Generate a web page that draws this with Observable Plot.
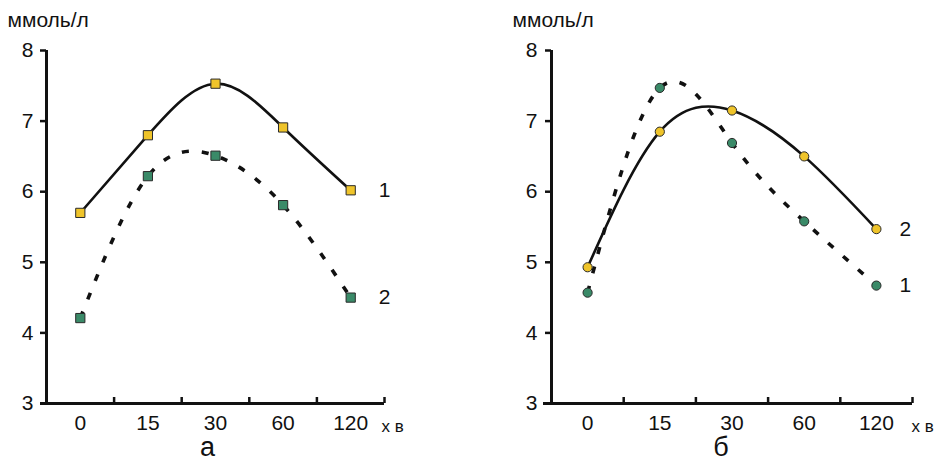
<!DOCTYPE html>
<html>
<head>
<meta charset="utf-8">
<script src="https://cdn.jsdelivr.net/npm/d3@7"></script>
<script src="https://cdn.jsdelivr.net/npm/@observablehq/plot@0.6"></script>
<style>
  body { margin: 0; background: #fff; }
  #wrap { position: relative; width: 937px; height: 462px; overflow: hidden; background: #fff; }
  .panel { position: absolute; top: 0; }
</style>
</head>
<body>
<div id="wrap"></div>
<script>
// ---- data ----
const categories = ["0", "15", "30", "60", "120"];
const yTicks = [3, 4, 5, 6, 7, 8];
const unitLabel = "ммоль/л";
const timeLabel = "х в";
const panelLetters = ["а", "б"];

// panel а (squares)
const panelA_series1 = [5.7, 6.8, 7.53, 6.91, 6.02];   // label "1", solid, yellow
const panelA_series2 = [4.21, 6.22, 6.51, 5.81, 4.50]; // label "2", dashed, green
// panel б (circles)
const panelB_series2 = [4.93, 6.85, 7.15, 6.5, 5.47];  // label "2", solid, yellow
const panelB_series1 = [4.57, 7.47, 6.69, 5.58, 4.67]; // label "1", dashed, green

const YELLOW = "#efc42a";
const GREEN = "#3a8a68";
const FONT = "'Liberation Sans', Arial, sans-serif";

function makePanel(o) {
  const n = categories.length;
  const idx = categories.map((c, i) => i);
  const bounds = categories.map((c, i) => i + 0.5);
  const marks = [];
  // axis lines
  marks.push(Plot.ruleX([-0.5], {y1: yTicks[0], y2: yTicks[yTicks.length - 1], stroke: "#111", strokeWidth: 3}));
  marks.push(Plot.ruleY([yTicks[0]], {stroke: "#111", strokeWidth: 3, insetLeft: -o.overhang}));
  // axes
  marks.push(Plot.axisY({ticks: yTicks, tickSize: 6, tickPadding: o.yPad, fontSize: 21, strokeWidth: 2.5, label: null, tickFormat: d => String(d)}));
  marks.push(Plot.axisX({ticks: idx, tickFormat: i => categories[i], tickSize: 0, tickPadding: 12, fontSize: 21, label: null}));
  marks.push(Plot.axisX({ticks: bounds, tickFormat: () => "", tickSize: 6, dy: -6, strokeWidth: 2.5, label: null}));
  // lines
  for (const s of o.series) {
    const data = s.values.map((v, i) => ({i, v}));
    marks.push(Plot.line(data, {
      x: "i", y: "v", curve: "natural", stroke: "#111",
      strokeWidth: s.dashed ? 3.6 : 2.6,
      strokeDasharray: s.dashed ? "7,13" : null,
      strokeLinecap: "butt"
    }));
  }
  // dots + end labels
  for (const s of o.series) {
    const data = s.values.map((v, i) => ({i, v}));
    marks.push(Plot.dot(data, {x: "i", y: "v", symbol: o.symbol, r: o.r, fill: s.color, stroke: "#2a2a2a", strokeWidth: 1}));
    marks.push(Plot.text([data[data.length - 1]], {x: "i", y: "v", text: () => s.name, dx: o.labelDx, textAnchor: "start", lineAnchor: "middle", fontSize: 21}));
  }
  // texts
  marks.push(Plot.text([unitLabel], {text: d => d, frameAnchor: "top-left", lineAnchor: "middle", dx: -39, dy: -30, textAnchor: "start", fontSize: 21}));
  marks.push(Plot.text([timeLabel], {text: d => d, frameAnchor: "bottom-right", lineAnchor: "middle", dx: o.timeDx, dy: 23, textAnchor: "start", fontSize: 17}));
  marks.push(Plot.text([o.letter], {text: d => d, frameAnchor: "bottom", lineAnchor: "middle", dx: o.letterDx, dy: 44, fontSize: 27}));

  const svg = Plot.plot({
    width: o.width,
    height: 462,
    marginLeft: o.marginLeft,
    marginRight: o.marginRight,
    marginTop: 50,
    marginBottom: 59,
    x: {type: "linear", domain: [-0.5, n - 0.5]},
    y: {domain: [yTicks[0], yTicks[yTicks.length - 1]]},
    style: {fontFamily: FONT, color: "#111", background: "transparent", overflow: "visible"},
    marks
  });
  const div = document.createElement("div");
  div.className = "panel";
  div.style.left = o.left + "px";
  div.appendChild(svg);
  document.getElementById("wrap").appendChild(div);
}

makePanel({
  left: 0, width: 470, marginLeft: 46, marginRight: 86, overhang: 6, yPad: 7,
  symbol: "square", r: 5.2, labelDx: 28, timeDx: -3, letter: panelLetters[0], letterDx: -8,
  series: [
    {name: "1", values: panelA_series1, color: YELLOW, dashed: false},
    {name: "2", values: panelA_series2, color: GREEN, dashed: true}
  ]
});
makePanel({
  left: 470, width: 467, marginLeft: 81, marginRight: 25, overhang: 8, yPad: 8,
  symbol: "circle", r: 4.6, labelDx: 23, timeDx: -1, letter: panelLetters[1], letterDx: -11,
  series: [
    {name: "2", values: panelB_series2, color: YELLOW, dashed: false},
    {name: "1", values: panelB_series1, color: GREEN, dashed: true}
  ]
});
</script>
</body>
</html>
